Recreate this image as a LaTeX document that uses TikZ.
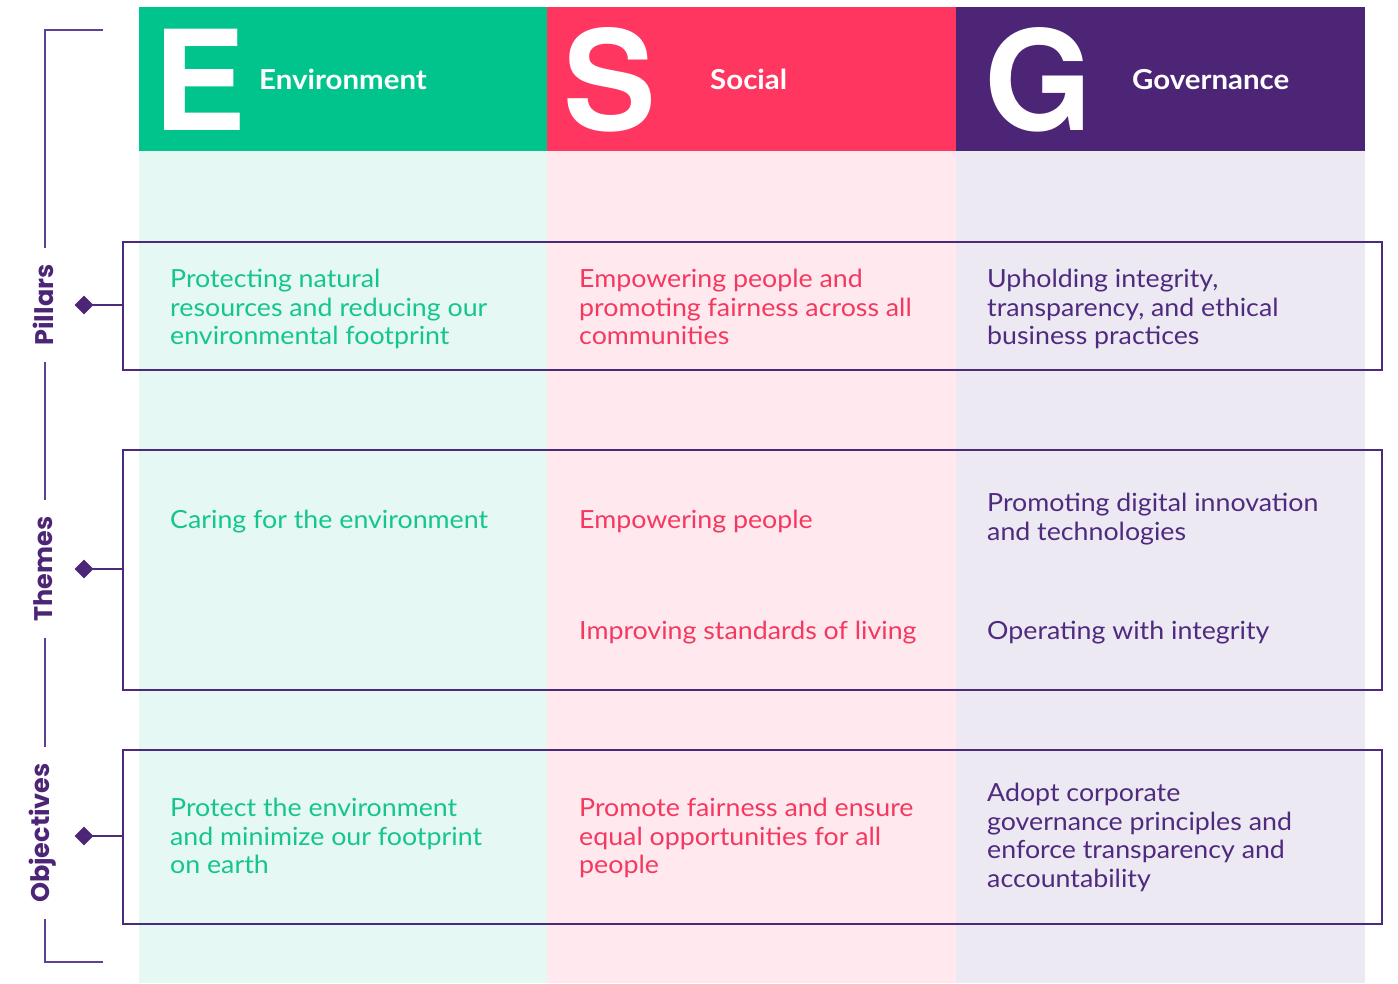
\documentclass[tikz,border=0pt]{standalone}
\usepackage{fontspec}
\setmainfont{Lato}[FakeStretch=1.07]
\newfontfamily\bigfont{TeX Gyre Heros}
\newfontfamily\sidefont{Poppins}
\usetikzlibrary{shapes.geometric}
\definecolor{egreen}{HTML}{00C48C}
\definecolor{sred}{HTML}{FF3660}
\definecolor{gpurple}{HTML}{4D2577}
\definecolor{elight}{HTML}{E6F8F3}
\definecolor{slight}{HTML}{FFE9EE}
\definecolor{glight}{HTML}{ECE9F3}
\definecolor{etext}{HTML}{14C68D}
\definecolor{stext}{HTML}{F5385F}
\definecolor{gtext}{HTML}{4F2A7E}
\definecolor{boxline}{HTML}{4B2A7B}
\definecolor{brline}{HTML}{5E4192}
\tikzset{
  bigletter/.style={font=\bigfont\bfseries\fontsize{139}{139}\selectfont, text=white, inner sep=0, anchor=base west},
  headlabel/.style={font=\bfseries\fontsize{27.5}{30}\selectfont, text=white, inner sep=0, anchor=base west},
  body/.style={font=\fontsize{25}{28.5}\selectfont, inner sep=0, anchor=north west, align=left, execute at begin node={\rule{0pt}{21pt}}},
  etxt/.style={body, text=etext},
  stxt/.style={body, text=stext},
  gtxt/.style={body, text=gtext},
  rowbox/.style={draw=boxline, line width=1.8pt, anchor=north west, inner sep=0, minimum width=1259pt},
  sidelabel/.style={font=\sidefont\bfseries\fontsize{25.5}{30}\selectfont, text=gpurple, rotate=90, inner xsep=16pt, inner ysep=0},
  dmd/.style={diamond, fill=gpurple, inner sep=0, minimum width=19pt, minimum height=19pt},
  bracket/.style={draw=brline, line width=1.6pt},
  link/.style={draw=boxline, line width=1.8pt}
}
\begin{document}
\begin{tikzpicture}[x=1pt,y=-1pt]
\useasboundingbox (0,0) rectangle (1398,983);
% column backgrounds
\fill[elight] (139,151) rectangle (547,983);
\fill[slight] (547,151) rectangle (956,983);
\fill[glight] (956,151) rectangle (1365,983);
% headers
\fill[egreen] (139,7) rectangle (547,151);
\fill[sred] (547,7) rectangle (956,151);
\fill[gpurple] (956,7) rectangle (1365,151);
\node[bigletter] (E) at (153,130) {E};
\node[bigletter] (S) at (563,130) {S};
\node[bigletter] (G) at (984,130) {G};
\node[headlabel] (Elab) at (259,89) {Environment};
\node[headlabel] (Slab) at (710,89) {Social};
\node[headlabel] (Glab) at (1132,89) {Governance};
% row boxes
\node[rowbox, minimum height=128pt] (pbox) at (122,241) {};
\node[rowbox, minimum height=240pt] (tbox) at (122,449) {};
\node[rowbox, minimum height=174pt] (obox) at (122,749) {};
% pillars texts
\node[etxt] (p1) at (170,269) {Protecting natural\\resources and reducing our\\environmental footprint};
\node[stxt] (p2) at (579,269) {Empowering people and\\promoting fairness across all\\communities};
\node[gtxt] (p3) at (987,269) {Upholding integrity,\\transparency, and ethical\\business practices};
% themes texts
\node[etxt] (t1) at (170,507) {Caring for the environment};
\node[stxt] (t2) at (579,507) {Empowering people};
\node[stxt] (t3) at (579,618) {Improving standards of living};
\node[gtxt] (t4) at (987,493) {Promoting digital innovation\\and technologies};
\node[gtxt] (t5) at (987,618) {Operating with integrity};
% objectives texts
\node[etxt] (o1) at (170,798) {Protect the environment\\and minimize our footprint\\on earth};
\node[stxt] (o2) at (579,798) {Promote fairness and ensure\\equal opportunities for all\\people};
\node[gtxt] (o3) at (987,783) {Adopt corporate\\governance principles and\\enforce transparency and\\accountability};
% side labels
\node[sidelabel] (lp) at (43,305) {Pillars};
\node[sidelabel] (lt) at (43,569) {Themes};
\node[sidelabel] (lo) at (43,833) {Objectives};
\coordinate (btop) at (45,30);
\coordinate (btopend) at (103,30);
\coordinate (bbot) at (45,962);
\coordinate (bbotend) at (103,962);
\draw[bracket] (btopend) -- (btop) -- (btop |- lp.east);
\draw[bracket] (lp.west -| btop) -- (lt.east -| btop);
\draw[bracket] (lt.west -| btop) -- (lo.east -| btop);
\draw[bracket] (lo.west -| btop) -- (bbot) -- (bbotend);
% diamonds and links
\node[dmd] (dp) at (84,305) {};
\node[dmd] (dt) at (84,569) {};
\node[dmd] (do) at (84,836) {};
\draw[link] (dp.center) -- (dp.center -| pbox.west);
\draw[link] (dt.center) -- (dt.center -| tbox.west);
\draw[link] (do.center) -- (do.center -| obox.west);
\end{tikzpicture}
\end{document}
